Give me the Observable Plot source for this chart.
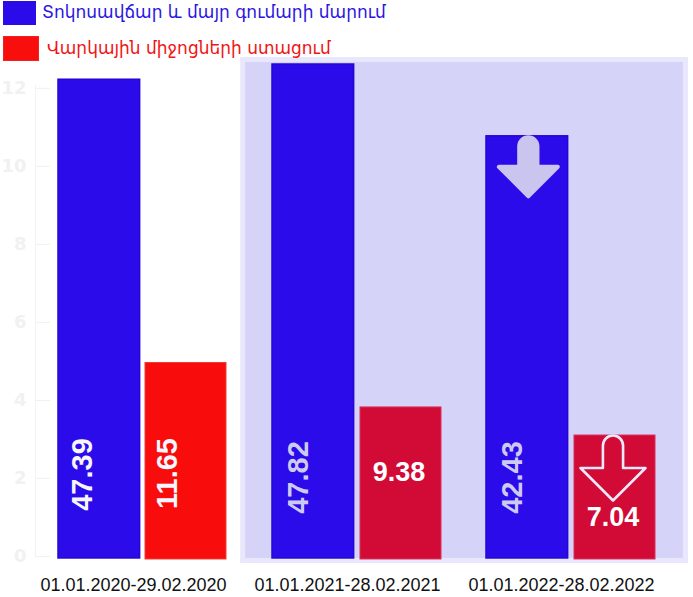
<!DOCTYPE html>
<html>
<head>
<meta charset="utf-8">
<script src="https://cdn.jsdelivr.net/npm/d3@7"></script>
<script src="https://cdn.jsdelivr.net/npm/@observablehq/plot@0.6"></script>
<style>
  html, body { margin: 0; padding: 0; background: #ffffff; }
  #wrap { position: relative; width: 693px; height: 597px; overflow: hidden; }
  #chart { position: absolute; left: 0; top: 0; }
  #legend { position: absolute; left: 0; top: 0; }
  .sw { position: absolute; box-sizing: border-box; }
  .lt { position: absolute; white-space: nowrap; font-family: "DejaVu Sans", "Noto Sans", sans-serif; font-size: 17px; line-height: 20px; }
</style>
</head>
<body>
<div id="wrap">
  <div id="chart"></div>
  <div id="legend"></div>
</div>
<script>
// ---- data ----
const periods = ["01.01.2020-29.02.2020", "01.01.2021-28.02.2021", "01.01.2022-28.02.2022"];
const seriesNames = ["Տոկոսավճար և մայր գումարի մարում", "Վարկային միջոցների ստացում"];
const repaymentLabels = [47.39, 47.82, 42.43];   // printed values, blue bars
const receiptLabels = [11.65, 9.38, 7.04];       // printed values, red bars
const repaymentHeights = [12.22, 12.61, 10.77];  // bar heights
const receiptHeights = [4.96, 3.82, 3.10];
const yTicks = [0, 2, 4, 6, 8, 10, 12];

// ---- layout constants ----
const W = 693, H = 597;
const mL = 57, mR = 36, mT = 57, mB = 34;
const yDomain = [-0.18, 12.79];
const padInner = 0.207;
const xs = d3.scaleBand(periods, [mL, W - mR]).paddingInner(padInner).paddingOuter(0);
const bw = xs.bandwidth();
const blueW = 82, gap = 5;
const blueDx = blueW / 2 - bw / 2;
const redDx = (blueW + gap + bw) / 2 - bw / 2;

const blue = "#2c0bea", blueStroke = "#2507d4";
const red1 = "#f80c0c", red2 = "#d10a36";
const lav = "#d5d3f7";

const rows = periods.map((p, i) => ({
  period: p, i,
  rep: repaymentHeights[i], rec: receiptHeights[i],
  repLabel: repaymentLabels[i].toFixed(2), recLabel: receiptLabels[i].toFixed(2)
}));

const arrowSymbol = {
  draw(ctx, size) {
    const r = Math.sqrt(size / Math.PI);
    const s = 0.31 * r, top = -r, tip = r;
    ctx.moveTo(-s, top + s);
    ctx.arc(0, top + s, s, Math.PI, 0);
    ctx.lineTo(s, 0);
    ctx.lineTo(r, 0);
    ctx.lineTo(0, tip);
    ctx.lineTo(-r, 0);
    ctx.lineTo(-s, 0);
    ctx.closePath();
  }
};

const font = "'Liberation Sans', Arial, sans-serif";

const plot = Plot.plot({
  width: W, height: H,
  marginLeft: mL, marginRight: mR, marginTop: mT, marginBottom: mB,
  style: { background: "transparent", fontFamily: font, overflow: "visible" },
  x: { domain: periods, paddingInner: padInner, paddingOuter: 0, axis: null },
  y: { domain: yDomain, axis: null },
  marks: [
    // highlight panel behind last two periods
    Plot.barY([periods[1]], {
      x: d => d, y1: () => yDomain[0], y2: () => yDomain[1],
      fill: lav, stroke: "#e8e7fb", strokeWidth: 5,
      insetTop: 2.5, insetBottom: 2.5,
      insetLeft: -(xs(periods[1]) - 242.5),
      insetRight: -((xs(periods[2]) + bw) - (xs(periods[1]) + bw) + 28.6)
    }),
    // faint y axis
    Plot.frame({ anchor: "left", dx: -22, stroke: "#f3f3f3", insetTop: 28, insetBottom: 7 }),
    Plot.axisY(yTicks, {
      anchor: "left", tickSize: 15, tickPadding: 9, dx: -7, label: null,
      stroke: "#f6efeb", fill: "#f1f1f1", fontSize: 18, fontWeight: "bold",
      fontFamily: "'DejaVu Sans', sans-serif", tickFormat: d => String(d)
    }),
    // bars
    Plot.barY(rows, {
      x: "period", y: "rep", fill: blue, stroke: blueStroke, strokeWidth: 1.5,
      insetRight: bw - blueW, insetBottom: -2
    }),
    Plot.barY(rows.filter(d => d.i === 0), {
      x: "period", y: "rec", fill: red1, stroke: "#f43a3a", strokeWidth: 1,
      insetLeft: blueW + gap, insetRight: 2, insetBottom: -3
    }),
    Plot.barY(rows.filter(d => d.i > 0), {
      x: "period", y: "rec", fill: red2, stroke: "#d8305a", strokeWidth: 1,
      insetLeft: blueW + gap + 1, insetRight: 1, insetBottom: -3
    }),
    // arrows
    Plot.dot(rows.filter(d => d.i === 2), {
      x: "period", y: "rep", dx: blueDx + 1, dy: 30.5, r: 29.5,
      symbol: arrowSymbol, fill: "#c9c5ee", stroke: "#c9c5ee", strokeWidth: 4, strokeLinejoin: "round"
    }),
    Plot.dot(rows.filter(d => d.i === 2), {
      x: "period", y: "rec", dx: redDx - 2, dy: 32.5, r: 32.5,
      symbol: arrowSymbol, fill: red2, stroke: "#ece8fb", strokeWidth: 2.6, strokeLinejoin: "round"
    }),
    // value labels
    Plot.text(rows.filter(d => d.i === 0), {
      x: "period", text: "repLabel", frameAnchor: "bottom", dy: -89, dx: blueDx - 7,
      rotate: -90, fill: "#f6f6ff", fontSize: 29, fontWeight: "bold", fontFamily: font
    }),
    Plot.text(rows.filter(d => d.i > 0), {
      x: "period", text: "repLabel", frameAnchor: "bottom", dy: -86, dx: blueDx - 5,
      rotate: -90, fill: "#cdcaf2", fontSize: 29, fontWeight: "bold", fontFamily: font
    }),
    Plot.text(rows.filter(d => d.i === 0), {
      x: "period", text: "recLabel", frameAnchor: "bottom", dy: -90, dx: redDx - 10,
      rotate: -90, fill: "#f6f6ff", fontSize: 29, fontWeight: "bold", fontFamily: font
    }),
    Plot.text(rows.filter(d => d.i === 1), {
      x: "period", text: "recLabel", frameAnchor: "bottom", dy: -83, dx: redDx - 2,
      fill: "#ffffff", fontSize: 27, fontWeight: "bold", fontFamily: font
    }),
    Plot.text(rows.filter(d => d.i === 2), {
      x: "period", text: "recLabel", frameAnchor: "bottom", dy: -38, dx: redDx - 2,
      fill: "#ffffff", fontSize: 27, fontWeight: "bold", fontFamily: font
    }),
    // x axis labels
    Plot.axisX({
      tickSize: 0, tickPadding: 15, dx: -10, label: null, fontSize: 18, fill: "#111111", fontFamily: font
    })
  ]
});
document.getElementById("chart").appendChild(plot);

// legend
const legend = document.getElementById("legend");
const items = [
  { name: seriesNames[0], color: blue, border: "#2a0fd8", text: "#2b16e2", sw: [3, 1, 33, 24], tx: [42, 2] },
  { name: seriesNames[1], color: "#f90e0e", border: "#f22222", text: "#f01515", sw: [3, 36, 36, 25], tx: [47, 38] }
];
items.forEach(it => {
  const s = document.createElement("div");
  s.className = "sw";
  Object.assign(s.style, {
    left: it.sw[0] + "px", top: it.sw[1] + "px", width: it.sw[2] + "px", height: it.sw[3] + "px",
    background: it.color, border: "1px solid " + it.border
  });
  legend.appendChild(s);
  const t = document.createElement("div");
  t.className = "lt";
  t.textContent = it.name;
  Object.assign(t.style, { left: it.tx[0] + "px", top: it.tx[1] + "px", color: it.text });
  legend.appendChild(t);
});
</script>
</body>
</html>
